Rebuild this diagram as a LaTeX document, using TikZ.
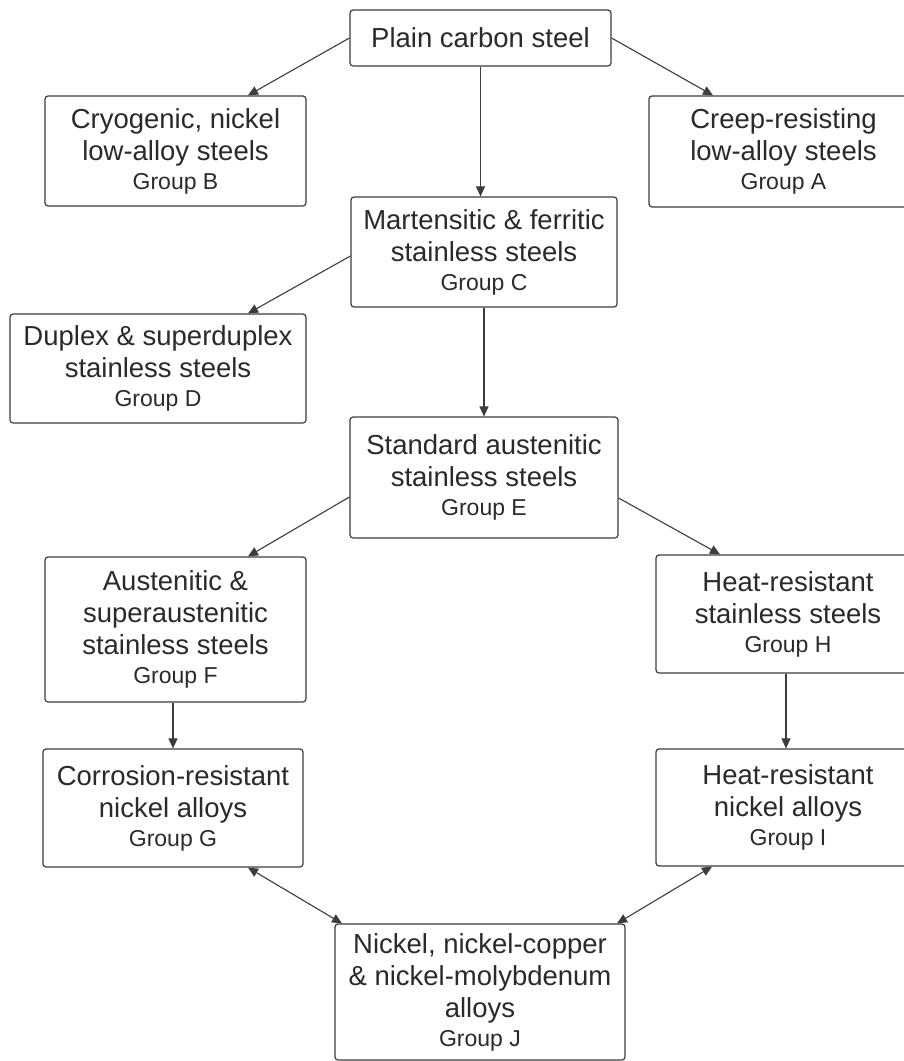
\documentclass[tikz,border=0pt]{standalone}
\usepackage{fontspec}
\setmainfont{Liberation Sans}
\usetikzlibrary{arrows.meta,calc}
\definecolor{ink}{HTML}{2A2A2A}
\definecolor{edge}{HTML}{3C3C3C}
\tikzset{
  box/.style={draw=edge, line width=1.2pt, rounded corners=3pt, fill=white,
    align=center, text=ink, inner sep=0pt,
    font=\fontsize{27.5}{32}\selectfont},
  arr/.style={draw=edge, line width=1.1pt, -{Triangle[length=10pt,width=9pt]}},
  biarr/.style={draw=edge, line width=1.1pt, {Triangle[length=10pt,width=9pt]}-{Triangle[length=10pt,width=9pt]}}
}
\newcommand{\grp}[1]{\\[-3pt]{\fontsize{23}{28}\selectfont #1}}
\begin{document}
\begin{tikzpicture}[x=1pt,y=-1pt]
\useasboundingbox (0,0) rectangle (904,1061);
\clip (0,0) rectangle (904,1061);
\fill[white] (0,0) rectangle (904,1061);
\node[box, minimum width=261pt, minimum height=56pt] (A) at (480.5,38) {Plain carbon steel};
\node[box, minimum width=261pt, minimum height=110pt] (B) at (175.5,151) {Cryogenic, nickel\\low-alloy steels\grp{Group B}};
\node[box, minimum width=269pt, minimum height=111pt] (C) at (783.5,151.5) {Creep-resisting\\low-alloy steels\grp{Group A}};
\node[box, minimum width=266pt, minimum height=110pt] (D) at (484,252) {Martensitic \& ferritic\\stainless steels\grp{Group C}};
\node[box, minimum width=296pt, minimum height=109pt] (E) at (158,368.5) {Duplex \& superduplex\\stainless steels\grp{Group D}};
\node[box, minimum width=268pt, minimum height=121pt] (F) at (484,477.5) {Standard austenitic\\stainless steels\grp{Group E}};
\node[box, minimum width=261pt, minimum height=145pt] (G) at (175.5,629.5) {Austenitic \&\\superaustenitic\\stainless steels\grp{Group F}};
\node[box, minimum width=264pt, minimum height=118pt] (H) at (788,614) {Heat-resistant\\stainless steels\grp{Group H}};
\node[box, minimum width=260pt, minimum height=118pt] (I) at (173,808) {Corrosion-resistant\\nickel alloys\grp{Group G}};
\node[box, minimum width=264pt, minimum height=117pt] (J) at (788,807.5) {Heat-resistant\\nickel alloys\grp{Group I}};
\node[box, minimum width=290pt, minimum height=136pt] (K) at (480,992) {Nickel, nickel-copper\\\& nickel-molybdenum\\alloys\grp{Group J}};
\draw[arr] (A.west) -- ($(B.north)+(72.5,0)$);
\draw[arr] (A.east) -- ($(C.north)+(-70.5,0)$);
\draw[arr] (A.south) -- (A.south |- D.north);
\draw[arr] ($(D.west)+(0,4)$) -- ($(E.north)+(90,0)$);
\draw[arr] (D.south) -- (D.south |- F.north);
\draw[arr] ($(F.west)+(0,19.5)$) -- ($(G.north)+(72.5,0)$);
\draw[arr] ($(F.east)+(0,20.5)$) -- ($(H.north)+(-68,0)$);
\draw[arr] ($(G.south)+(-2.5,0)$) -- ($(I.north)+(0,0)$);
\draw[arr] ($(H.south)+(-2,0)$) -- ($(J.north)+(-2,0)$);
\draw[biarr] ($(I.south)+(75,0)$) -- ($(K.north)+(-138,0)$);
\draw[biarr] ($(J.south)+(-76,0)$) -- ($(K.north)+(137,0)$);
\end{tikzpicture}
\end{document}
